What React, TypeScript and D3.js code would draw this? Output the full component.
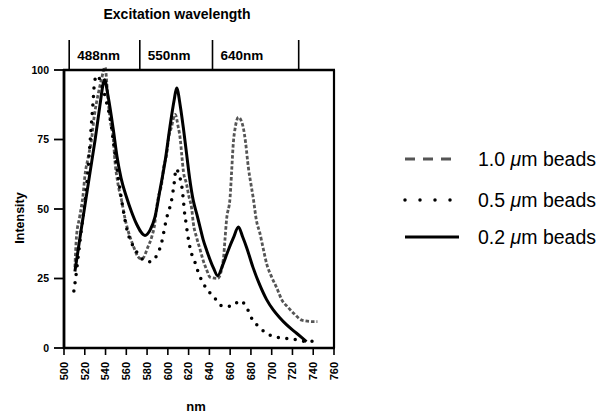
import { useEffect, useRef } from 'react';
import * as d3 from 'd3';

// 1.0 um beads
const nm10 = [510.5, 512, 515, 518.5, 520, 523.5, 526.5, 529, 533, 536, 539.5, 542.5, 544.5, 547.5, 549, 552, 555.5, 558.5, 563.5, 567, 571, 575, 581, 584.5, 587.5, 589, 591, 594, 596, 599, 600.5, 603.5, 607, 610, 612, 613.5, 615, 618, 620, 623, 624.5, 627.5, 631, 634, 637.5, 640.5, 648, 653.5, 655, 656.5, 660, 661.5, 663, 665, 668, 672.5, 675, 677.5, 680, 682, 685.5, 688.5, 692, 695, 700, 705, 709.5, 716, 722.5, 729, 740, 744];
const int10 = [29, 40, 47, 55.5, 61.5, 69, 75, 83, 91.5, 96.5, 101, 89, 82, 75, 67.5, 59, 53, 47, 40, 36.5, 33, 32, 36.5, 40, 45, 50, 54.5, 59, 65, 70, 75, 79.5, 84, 79.5, 75, 69, 63.5, 59, 55, 50, 45, 40, 35.5, 31.5, 28, 25.5, 25, 32, 39, 46, 54.5, 64, 73.5, 79.5, 83, 79.5, 73.5, 65, 59, 54.5, 45.5, 41.5, 35.5, 30.5, 25.5, 21.5, 17.5, 14.5, 12, 10, 9.5, 9.5];

// 0.5 um beads
const nm05 = [509.5, 511, 514, 517, 520, 522.5, 524.5, 526.5, 528, 529.5, 532, 536, 541.5, 544.5, 548, 552, 556, 561, 566, 571, 577, 583, 588, 592, 595, 597, 599, 601.5, 604, 606, 608, 611, 613.5, 615, 616, 617.5, 619, 622, 626, 629, 633, 638, 645, 653, 661.5, 669.5, 676, 681, 686.5, 694.5, 703, 713.5, 724, 734, 743];
const int05 = [20.5, 24.5, 34, 43.5, 52, 61.5, 71, 81, 88.5, 96, 98, 95, 87.5, 82.5, 73, 62, 52, 42, 37, 34, 31.5, 31, 32.5, 35.5, 39.5, 43.5, 47, 50, 54, 59, 64.5, 62, 58, 53, 49, 45, 41, 35, 31, 27.5, 24, 21, 18, 15, 15, 17, 14.5, 10.5, 8, 5.5, 4, 3.5, 3, 2.3, 2.6];

// 0.2 um beads
const nm02 = [510.5, 515.5, 520, 525, 530, 534.5, 538, 539, 542.5, 547.5, 551, 555, 560, 565, 570, 578, 583, 587.5, 592.5, 597.5, 602, 606, 608.5, 612, 615, 618, 621, 624.5, 628, 631, 634, 637.5, 644, 648, 653, 658, 663, 668, 672, 676, 682, 688.5, 695, 701.5, 708, 714.5, 724, 733.5];
const int02 = [27.5, 40, 51, 63, 75, 87, 95.5, 96.5, 90.5, 78.5, 69, 61, 54.5, 49, 44.5, 40.5, 42.5, 47, 57, 67.5, 79.5, 89, 93.5, 87, 79, 70, 61, 53, 48, 43.5, 39, 35, 28.7, 26, 30, 35, 39.5, 43.5, 40, 36, 29, 22.7, 17.5, 13.7, 10.8, 8.3, 5.3, 2.3];

const seriesNames = ['1.0', '0.5', '0.2'];
const xTicks = [500, 520, 540, 560, 580, 600, 620, 640, 660, 680, 700, 720, 740, 760];
const yTicks = [0, 25, 50, 75, 100];
const excitationLabels = ['488nm', '550nm', '640nm'];
const excitationEdges = [505, 573, 643, 726];

function App() {
    const svgRef = useRef(null);

    useEffect(() => {
        const svg = d3.select(svgRef.current);
        svg.selectAll('*').remove();
        const font = '"Liberation Sans", Arial, Helvetica, sans-serif';

        const x = d3.scaleLinear().domain([500, 760]).range([64, 334]);
        const y = d3.scaleLinear().domain([0, 100]).range([348, 70]);

        // 各系列样式
        const styles = [
            { x: nm10, y: int10, stroke: '#555', width: 2.8, dash: '3.5 2', cap: 'butt', legendDash: '10 8' },
            { x: nm05, y: int05, stroke: '#000', width: 3.5, dash: '0 8.5', cap: 'round', legendDash: '0 15' },
            { x: nm02, y: int02, stroke: '#000', width: 3, dash: null, cap: 'butt', legendDash: null },
        ];

        const line = d3.line()
            .x(d => x(d[0]))
            .y(d => y(d[1]))
            .curve(d3.curveMonotoneX);

        const plot = svg.append('g');
        styles.forEach(s => {
            plot.append('path')
                .datum(s.x.map((v, i) => [v, s.y[i]]))
                .attr('fill', 'none')
                .attr('stroke', s.stroke)
                .attr('stroke-width', s.width)
                .attr('stroke-linecap', s.cap)
                .attr('stroke-linejoin', 'round')
                .attr('stroke-dasharray', s.dash)
                .attr('d', line);
        });

        // 边框
        const frame = svg.append('g').attr('stroke', '#000').attr('fill', 'none');
        frame.append('line').attr('x1', x(500)).attr('x2', x(500)).attr('y1', y(100) - 1).attr('y2', y(0) + 1).attr('stroke-width', 2.8);
        frame.append('line').attr('x1', x(500) - 1).attr('x2', x(760) + 1).attr('y1', y(0)).attr('y2', y(0)).attr('stroke-width', 2.6);
        frame.append('line').attr('x1', x(500) - 1).attr('x2', x(760) + 1).attr('y1', y(100)).attr('y2', y(100)).attr('stroke-width', 2.6);
        frame.append('line').attr('x1', x(760)).attr('x2', x(760)).attr('y1', y(100)).attr('y2', y(0)).attr('stroke-width', 2.2);

        // y 轴刻度
        const yAxis = svg.append('g');
        yAxis.selectAll('line').data(yTicks).join('line')
            .attr('x1', 54).attr('x2', 64)
            .attr('y1', d => y(d)).attr('y2', d => y(d))
            .attr('stroke', '#000').attr('stroke-width', 1.8);
        yAxis.selectAll('text').data(yTicks).join('text')
            .attr('x', 49).attr('y', d => y(d)).attr('dy', '0.35em')
            .attr('text-anchor', 'end')
            .attr('font-family', font).attr('font-weight', 'bold').attr('font-size', 10.5)
            .text(d => d);

        // x 轴刻度
        const xAxis = svg.append('g');
        xAxis.selectAll('line').data(xTicks).join('line')
            .attr('x1', d => x(d)).attr('x2', d => x(d))
            .attr('y1', 348).attr('y2', 355)
            .attr('stroke', '#000').attr('stroke-width', 1.6);
        xAxis.selectAll('text').data(xTicks).join('text')
            .attr('transform', d => `translate(${x(d)},362) rotate(-90)`)
            .attr('dy', '0.35em')
            .attr('text-anchor', 'end')
            .attr('font-family', font).attr('font-weight', 'bold').attr('font-size', 11)
            .text(d => d);

        // 轴标题
        svg.append('text')
            .attr('transform', 'translate(24,218) rotate(-90)')
            .attr('text-anchor', 'middle')
            .attr('font-family', font).attr('font-weight', 'bold').attr('font-size', 12.5)
            .text('Intensity');
        svg.append('text')
            .attr('x', 196).attr('y', 411)
            .attr('text-anchor', 'middle')
            .attr('font-family', font).attr('font-weight', 'bold').attr('font-size', 13)
            .text('nm');

        // 激发波长
        svg.append('text')
            .attr('x', 177).attr('y', 19)
            .attr('text-anchor', 'middle')
            .attr('font-family', font).attr('font-weight', 'bold').attr('font-size', 14)
            .text('Excitation wavelength');
        const top = svg.append('g');
        top.selectAll('line').data(excitationEdges).join('line')
            .attr('x1', d => x(d)).attr('x2', d => x(d))
            .attr('y1', 40).attr('y2', 70)
            .attr('stroke', '#000').attr('stroke-width', 1.6);
        top.selectAll('text').data(excitationLabels).join('text')
            .attr('x', (d, i) => x(excitationEdges[i]) + 8)
            .attr('y', 60)
            .attr('font-family', font).attr('font-weight', 'bold').attr('font-size', 13.5)
            .text(d => d);

        // 图例
        const legendY = [159, 200, 237];
        const legend = svg.append('g');
        styles.forEach((s, i) => {
            legend.append('line')
                .attr('x1', 405).attr('x2', 459)
                .attr('y1', legendY[i]).attr('y2', legendY[i])
                .attr('stroke', s.stroke)
                .attr('stroke-width', s.width)
                .attr('stroke-linecap', s.cap)
                .attr('stroke-dasharray', s.legendDash);
            const t = legend.append('text')
                .attr('x', 478).attr('y', legendY[i] + 7)
                .attr('font-family', font).attr('font-size', 19.5);
            t.append('tspan').text(seriesNames[i] + ' ');
            t.append('tspan').attr('font-style', 'italic').text('\u03bc');
            t.append('tspan').text('m beads');
        });
    }, []);

    return (
        <svg ref={svgRef} width={605} height={415}
            style={{ position: 'absolute', left: 0, top: 0, background: '#fff' }} />
    );
}

export default App;
